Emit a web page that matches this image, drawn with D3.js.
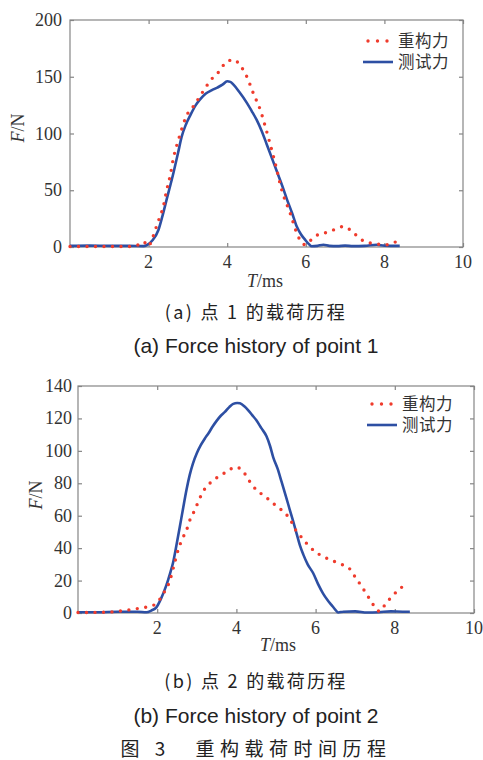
<!DOCTYPE html>
<html>
<head>
<meta charset="utf-8">
<script src="https://cdn.jsdelivr.net/npm/d3@7"></script>
<style>
  html, body { margin: 0; padding: 0; background: #fff; }
  svg { display: block; }
</style>
</head>
<body>
<svg id="chart" width="483" height="760"></svg>
<script>
// ---------- Data ----------
const seriesNames = ["重构力", "测试力"];
const xTicks = [2, 4, 6, 8, 10];
const yTicks1 = [0, 50, 100, 150, 200];
const yTicks2 = [0, 20, 40, 60, 80, 100, 120, 140];

// Point 1 – reconstructed force (red dotted)
const p1ReconT = [0, 0.8, 1.5, 1.75, 1.87, 1.99, 2.1, 2.2, 2.29, 2.37, 2.46, 2.55, 2.63, 2.72, 2.8, 2.88, 2.97, 3.14, 3.31, 3.44, 3.58, 3.78, 3.95, 4.16, 4.33, 4.5, 4.67, 4.84, 4.97, 5.09, 5.22, 5.39, 5.6, 5.81, 5.98, 6.1, 6.2, 6.45, 6.7, 6.96, 7.17, 7.39, 7.64, 7.85, 8.06, 8.28];
const p1ReconF = [0.5, 0.5, 0.5, 2, 4.7, 0.5, 8, 18, 27, 35, 50, 63, 78, 90, 99, 108, 116, 124, 133, 140, 147, 154, 162, 165, 160, 150, 135, 121, 106, 91, 74, 50, 30, 9, 2, 5, 9, 12, 15, 18, 14, 7, 3.5, 2.5, 2, 4.4];
// Point 1 – measured force (blue solid)
const p1TestT = [0, 0.5, 1.0, 1.5, 1.87, 1.95, 2.1, 2.25, 2.35, 2.46, 2.63, 2.75, 2.84, 2.95, 3.06, 3.2, 3.31, 3.45, 3.6, 3.75, 3.88, 4.0, 4.08, 4.16, 4.3, 4.5, 4.62, 4.75, 4.88, 5.0, 5.13, 5.26, 5.4, 5.52, 5.65, 5.77, 5.88, 5.98, 6.08, 6.15, 6.3, 6.45, 6.6, 6.8, 7.0, 7.2, 7.5, 7.8, 8.0, 8.39];
const p1TestF = [1, 1.2, 1, 1, 0.8, 1.5, 6, 15, 27, 42, 65, 83, 97, 108, 116, 125, 130, 135, 138, 140.5, 143, 146, 145.5, 143, 137, 127, 120, 112, 102, 91, 79, 67, 54, 42, 30, 18, 11, 6.5, 2.5, 0.6, 1, 2, 1, 0.8, 1.2, 0.8, 1, 2, 1.2, 1];

// Point 2 – reconstructed force (red dotted)
const p2ReconT = [0, 0.7, 1.14, 1.39, 1.64, 1.9, 2.05, 2.18, 2.32, 2.42, 2.53, 2.64, 2.74, 2.82, 2.95, 3.06, 3.16, 3.33, 3.54, 3.75, 3.98, 4.1, 4.21, 4.34, 4.5, 4.72, 4.93, 5.14, 5.35, 5.5, 5.6, 5.77, 5.98, 6.2, 6.45, 6.66, 6.87, 7.03, 7.12, 7.2, 7.33, 7.46, 7.62, 7.75, 7.92, 8.13, 8.34];
const p2ReconF = [0.3, 0.5, 1.4, 2.3, 3.3, 4.7, 8, 13, 20, 29, 39, 46, 51, 57, 63.5, 70, 75, 80, 84, 87, 90, 89, 86, 81, 76, 72, 67.6, 63.5, 58, 51, 48, 43, 38, 34.7, 32, 30, 27, 21, 18, 15, 10, 5, 1, 5, 10, 15, 18.5];
// Point 2 – measured force (blue solid)
const p2TestT = [0, 0.5, 1.0, 1.5, 1.73, 1.85, 1.98, 2.1, 2.23, 2.32, 2.4, 2.48, 2.57, 2.65, 2.74, 2.82, 2.9, 3.0, 3.1, 3.2, 3.3, 3.4, 3.5, 3.6, 3.71, 3.82, 3.92, 4.02, 4.09, 4.2, 4.3, 4.4, 4.5, 4.63, 4.76, 4.85, 4.93, 5.04, 5.14, 5.25, 5.35, 5.44, 5.52, 5.6, 5.69, 5.8, 5.94, 6.06, 6.19, 6.3, 6.4, 6.5, 6.57, 6.7, 7.0, 7.3, 7.6, 7.9, 8.2, 8.38];
const p2TestF = [0.5, 0.5, 0.8, 0.8, 0.5, 1.5, 3.5, 9, 17, 24, 31, 41, 53, 64, 76, 85, 92, 98.5, 103.5, 107.5, 111, 115, 118.5, 121.5, 124, 127, 129, 129.5, 129.3, 127.5, 125, 122, 119, 114, 109, 103, 96, 89, 81, 72, 63.5, 56, 49, 42, 36, 30, 24.5, 18, 12, 8, 5, 2, 0.3, 0.8, 1, 0.3, 0.5, 1, 0.8, 0.8];

const captions = [
  "(a) 点 1 的载荷历程",
  "(a) Force history of point 1",
  "(b) 点 2 的载荷历程",
  "(b) Force history of point 2",
  "图 3\u3000重构载荷时间历程"
];

// ---------- Styles ----------
const RED = "#ef3b2c";
const BLUE = "#2d4fa3";
const AXIS = "#858585";
const SERIF = "'Liberation Serif', 'Times New Roman', serif";
const CJK = "'Noto Sans CJK SC', sans-serif";
const LEGEND_FONT = "'Liberation Sans', 'Noto Sans CJK SC', sans-serif";
const SANS = "'Liberation Sans', Arial, sans-serif";

const svg = d3.select("#chart");

function zip(ts, fs) { return ts.map((t, i) => [t, fs[i]]); }

function drawChart(cfg) {
  const g = svg.append("g");
  const x = d3.scaleLinear().domain([0, 10]).range([cfg.left, cfg.right]);
  const y = d3.scaleLinear().domain([0, cfg.ymax]).range([cfg.bottom, cfg.top]);
  const tickLen = 4;

  // box
  g.append("rect")
    .attr("x", cfg.left).attr("y", cfg.top)
    .attr("width", cfg.right - cfg.left).attr("height", cfg.bottom - cfg.top)
    .attr("fill", "none").attr("stroke", AXIS).attr("stroke-width", 1.2);

  // axes with inward ticks on all sides
  const axB = d3.axisBottom(x).tickValues(xTicks).tickSizeInner(-tickLen).tickSizeOuter(0).tickFormat("");
  const axT = d3.axisTop(x).tickValues(xTicks).tickSizeInner(-tickLen).tickSizeOuter(0).tickFormat("");
  const axL = d3.axisLeft(y).tickValues(cfg.yTicks).tickSizeInner(-tickLen).tickSizeOuter(0).tickFormat("");
  const axR = d3.axisRight(y).tickValues(cfg.yTicks).tickSizeInner(-tickLen).tickSizeOuter(0).tickFormat("");
  [[axB, `translate(0,${cfg.bottom})`], [axT, `translate(0,${cfg.top})`],
   [axL, `translate(${cfg.left},0)`], [axR, `translate(${cfg.right},0)`]].forEach(([ax, tr]) => {
    const a = g.append("g").attr("transform", tr).call(ax);
    a.select(".domain").remove();
    a.selectAll("line").attr("stroke", AXIS).attr("stroke-width", 1.2);
  });

  // tick labels
  g.selectAll(".xl").data(xTicks).enter().append("text")
    .attr("x", d => x(d)).attr("y", cfg.bottom + 15)
    .attr("text-anchor", "middle").attr("dominant-baseline", "central")
    .attr("font-family", SERIF).attr("font-size", 18).attr("fill", "#333")
    .text(d => d);
  g.selectAll(".yl").data(cfg.yTicks).enter().append("text")
    .attr("x", cfg.left - cfg.yLabelGap).attr("y", d => y(d))
    .attr("text-anchor", "end").attr("dominant-baseline", "central")
    .attr("font-family", SERIF).attr("font-size", 18).attr("fill", "#333")
    .text(d => d);

  // axis titles
  const xt = g.append("text")
    .attr("x", cfg.xTitleX).attr("y", cfg.xTitleY)
    .attr("text-anchor", "middle").attr("dominant-baseline", "central")
    .attr("font-family", SERIF).attr("font-size", 18).attr("fill", "#333");
  xt.append("tspan").attr("font-style", "italic").text("T");
  xt.append("tspan").text("/ms");
  const yt = g.append("text")
    .attr("transform", `translate(${cfg.yTitleX},${cfg.yTitleY}) rotate(-90)`)
    .attr("text-anchor", "middle").attr("dominant-baseline", "central")
    .attr("font-family", SERIF).attr("font-size", 18).attr("fill", "#333");
  yt.append("tspan").attr("font-style", "italic").text("F");
  yt.append("tspan").text("/N");

  const line = d3.line().x(d => x(d[0])).y(d => y(d[1])).curve(d3.curveMonotoneX);

  // measured (blue)
  g.append("path").datum(cfg.test)
    .attr("d", line).attr("fill", "none")
    .attr("stroke", BLUE).attr("stroke-width", 2.6).attr("stroke-linejoin", "round");
  // reconstructed (red dotted)
  g.append("path").datum(cfg.recon)
    .attr("d", line).attr("fill", "none")
    .attr("stroke", RED).attr("stroke-width", 3.4)
    .attr("stroke-linecap", "round").attr("stroke-dasharray", "0 8.5");

  // legend
  const lg = g.append("g");
  lg.append("line")
    .attr("x1", cfg.legX + 5).attr("x2", cfg.legX + 25)
    .attr("y1", cfg.legY).attr("y2", cfg.legY)
    .attr("stroke", RED).attr("stroke-width", 3.4)
    .attr("stroke-linecap", "round").attr("stroke-dasharray", "0 9.5");
  lg.append("line")
    .attr("x1", cfg.legX).attr("x2", cfg.legX + 30)
    .attr("y1", cfg.legY + 21).attr("y2", cfg.legY + 21)
    .attr("stroke", BLUE).attr("stroke-width", 2.6);
  lg.selectAll("text").data(seriesNames).enter().append("text")
    .attr("x", cfg.legX + 35).attr("y", (d, i) => cfg.legY + 6 + i * 21)
    .attr("font-family", LEGEND_FONT).attr("font-size", 16.5).attr("letter-spacing", 0.5).attr("fill", "#333")
    .text(d => d);
}

drawChart({
  left: 70, right: 463, top: 20, bottom: 247, ymax: 200, yTicks: yTicks1,
  yLabelGap: 8, xTitleX: 265, xTitleY: 281, yTitleX: 18, yTitleY: 128,
  legX: 363, legY: 41,
  recon: zip(p1ReconT, p1ReconF), test: zip(p1TestT, p1TestF)
});
drawChart({
  left: 78, right: 474, top: 386, bottom: 613, ymax: 140, yTicks: yTicks2,
  yLabelGap: 6, xTitleX: 278, xTitleY: 645, yTitleX: 36, yTitleY: 495,
  legX: 367, legY: 404,
  recon: zip(p2ReconT, p2ReconF), test: zip(p2TestT, p2TestF)
});

// captions
const capStyle = [
  { y: 311, font: CJK, size: 18, ls: 2.3 },
  { y: 345, font: SANS, size: 21, ls: 0 },
  { y: 680, font: CJK, size: 18, ls: 2.3 },
  { y: 715, font: SANS, size: 21, ls: 0 },
  { y: 747, font: CJK, size: 19, ls: 5.5 }
];
svg.selectAll(".cap").data(captions).enter().append("text")
  .attr("x", 256).attr("y", (d, i) => capStyle[i].y)
  .attr("text-anchor", "middle").attr("dominant-baseline", "central")
  .attr("font-family", (d, i) => capStyle[i].font)
  .attr("font-size", (d, i) => capStyle[i].size)
  .attr("letter-spacing", (d, i) => capStyle[i].ls)
  .attr("fill", "#222")
  .text(d => d);
</script>
</body>
</html>
